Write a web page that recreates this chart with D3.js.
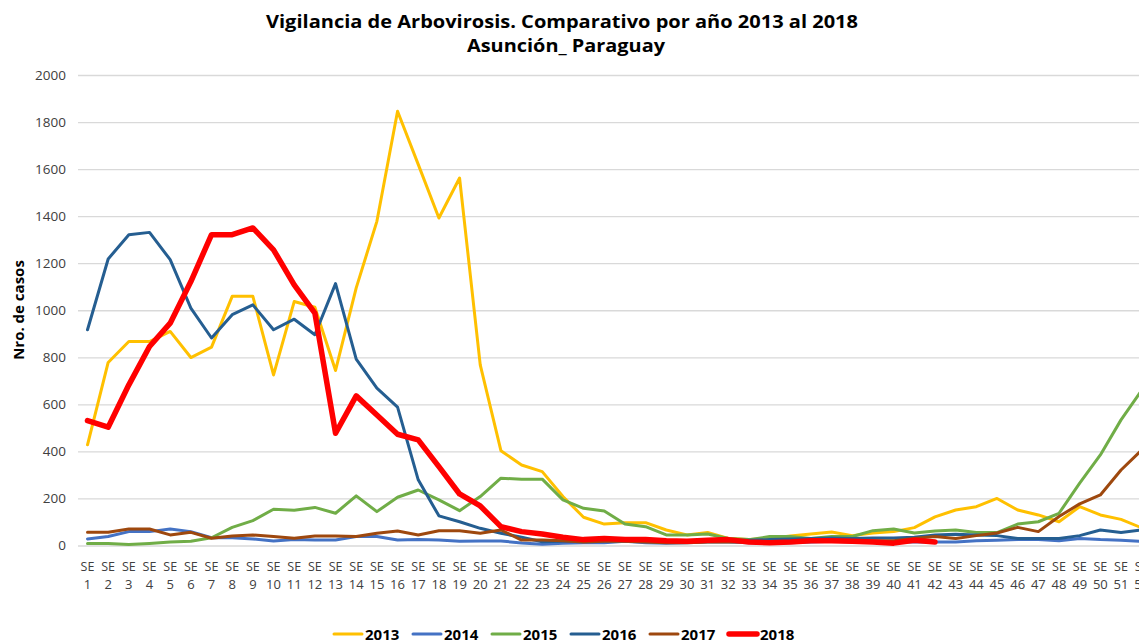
<!DOCTYPE html>
<html>
<head>
<meta charset="utf-8">
<script src="https://cdn.jsdelivr.net/npm/d3@7"></script>
<style>
body { margin: 0; background: #fff; }
text { font-family: "Open Sans", "Noto Sans", sans-serif; }
</style>
</head>
<body>
<script>
var width = 1139, height = 644;

// semanas epidemiologicas
var weeks = d3.range(1, 53);
var yTicks = [0, 200, 400, 600, 800, 1000, 1200, 1400, 1600, 1800, 2000];
var years = ['2013', '2014', '2015', '2016', '2017', '2018'];
var colors = ['#FFC000', '#4472C4', '#70AD47', '#255E91', '#9E480E', '#FF0000'];

var y2013 = [428, 778, 867, 867, 910, 799, 843, 1059, 1059, 725, 1037, 1013, 744, 1095, 1378, 1846, 1620, 1392, 1562, 768,
  403, 342, 314, 208, 120, 91, 97, 97, 66, 45, 55, 30, 25, 30, 40, 49, 57, 42, 53, 59,
  76, 122, 151, 165, 200, 151, 130, 101, 165, 130, 111, 75];
var y2014 = [28, 38, 59, 59, 70, 59, 33, 33, 28, 19, 26, 23, 23, 38, 38, 23, 26, 23, 18, 19,
  19, 11, 5, 10, 12, 12, 18, 12, 10, 12, 15, 15, 12, 10, 12, 15, 18, 15, 15, 15,
  15, 15, 15, 20, 22, 25, 25, 20, 30, 25, 22, 18];
var y2015 = [9, 9, 4, 9, 15, 18, 33, 77, 106, 154, 150, 162, 137, 211, 144, 205, 236, 194, 148, 208,
  286, 282, 282, 194, 158, 147, 91, 80, 45, 45, 49, 30, 25, 38, 38, 30, 38, 38, 63, 70,
  53, 62, 66, 55, 55, 91, 101, 137, 265, 385, 534, 660];
var y2016 = [917, 1218, 1321, 1331, 1215, 1009, 882, 981, 1023, 917, 962, 896, 1113, 792, 669, 588, 279, 126, 101, 73,
  52, 35, 16, 18, 18, 20, 20, 22, 20, 20, 22, 20, 22, 25, 28, 30, 32, 30, 32, 32,
  35, 45, 48, 45, 42, 30, 30, 30, 42, 66, 55, 66];
var y2017 = [56, 56, 70, 70, 45, 56, 31, 40, 45, 38, 31, 40, 40, 38, 52, 62, 45, 63, 63, 52,
  66, 23, 23, 20, 15, 18, 18, 15, 12, 12, 15, 15, 15, 15, 15, 18, 20, 20, 20, 20,
  30, 38, 30, 42, 53, 77, 59, 123, 177, 215, 321, 406];
var y2018 = [531, 503, 683, 846, 945, 1122, 1321, 1321, 1350, 1257, 1108, 988, 477, 636, 555, 473, 449, 335, 219, 168,
  80, 59, 49, 35, 25, 30, 25, 25, 20, 18, 22, 25, 15, 12, 15, 20, 20, 18, 15, 10,
  22, 15];
var series = [y2013, y2014, y2015, y2016, y2017, y2018];

var svg = d3.select('body').append('svg')
  .attr('width', width)
  .attr('height', height);

var xscale = d3.scaleLinear().domain([1, 52]).range([87.5, 1141.7]);
var yscale = d3.scaleLinear().domain([0, 2000]).range([545.5, 75]);

// grid + y axis
var yAxis = d3.axisLeft(yscale).tickValues(yTicks).tickFormat(d3.format('d'))
  .tickSize(-(width + 20 - 78)).tickPadding(12);
var gy = svg.append('g').attr('class', 'yaxis')
  .attr('transform', 'translate(78,0)')
  .call(yAxis);
gy.select('.domain').remove();
gy.selectAll('line').attr('stroke', '#d9d9d9').attr('stroke-width', 1.3);
gy.selectAll('text').attr('fill', '#404040').style('font-size', '13.5px');

// x labels (two lines)
var xl = svg.append('g').attr('class', 'xaxis');
var lab = xl.selectAll('g').data(weeks).enter().append('g')
  .attr('transform', function (d) { return 'translate(' + xscale(d) + ',0)'; });
lab.append('text').attr('y', 571).attr('text-anchor', 'middle')
  .attr('fill', '#404040').style('font-size', '12.5px').text('SE');
lab.append('text').attr('y', 589).attr('text-anchor', 'middle')
  .attr('fill', '#404040').style('font-size', '13px').text(function (d) { return d; });

// lines
var line = d3.line()
  .x(function (d, i) { return xscale(weeks[i]); })
  .y(function (d) { return yscale(d); });

series.forEach(function (s, k) {
  svg.append('path')
    .datum(s)
    .attr('fill', 'none')
    .attr('stroke', colors[k])
    .attr('stroke-width', k == 5 ? 5.5 : 3)
    .attr('stroke-linejoin', 'round')
    .attr('stroke-linecap', 'round')
    .attr('d', line);
});

// title
svg.append('text').attr('x', 562).attr('y', 28).attr('text-anchor', 'middle')
  .style('font-size', '17px').style('font-weight', 'bold').attr('fill', '#000')
  .attr('textLength', 592).attr('lengthAdjust', 'spacingAndGlyphs')
  .text('Vigilancia de Arbovirosis. Comparativo por año 2013 al 2018');
svg.append('text').attr('x', 566).attr('y', 52).attr('text-anchor', 'middle')
  .style('font-size', '17px').style('font-weight', 'bold').attr('fill', '#000')
  .attr('textLength', 198).attr('lengthAdjust', 'spacingAndGlyphs')
  .text('Asunción_ Paraguay');

svg.append('text')
  .attr('transform', 'translate(24,310) rotate(-90)')
  .attr('text-anchor', 'middle')
  .style('font-size', '15px').style('font-weight', 'bold').attr('fill', '#000')
  .text('Nro. de casos');

// legend
var leg = svg.append('g').selectAll('g').data(years).enter().append('g')
  .attr('transform', function (d, i) { return 'translate(' + (334 + i * 79) + ',634)'; });
leg.append('line').attr('x1', 0).attr('x2', 28).attr('y1', 0).attr('y2', 0)
  .attr('stroke', function (d, i) { return colors[i]; })
  .attr('stroke-width', function (d, i) { return i == 5 ? 5.5 : 3; })
  .attr('stroke-linecap', 'round');
leg.append('text').attr('x', 31).attr('y', 5.5)
  .style('font-size', '15px').style('font-weight', 'bold').attr('fill', '#000')
  .text(function (d) { return d; });
</script>
</body>
</html>
